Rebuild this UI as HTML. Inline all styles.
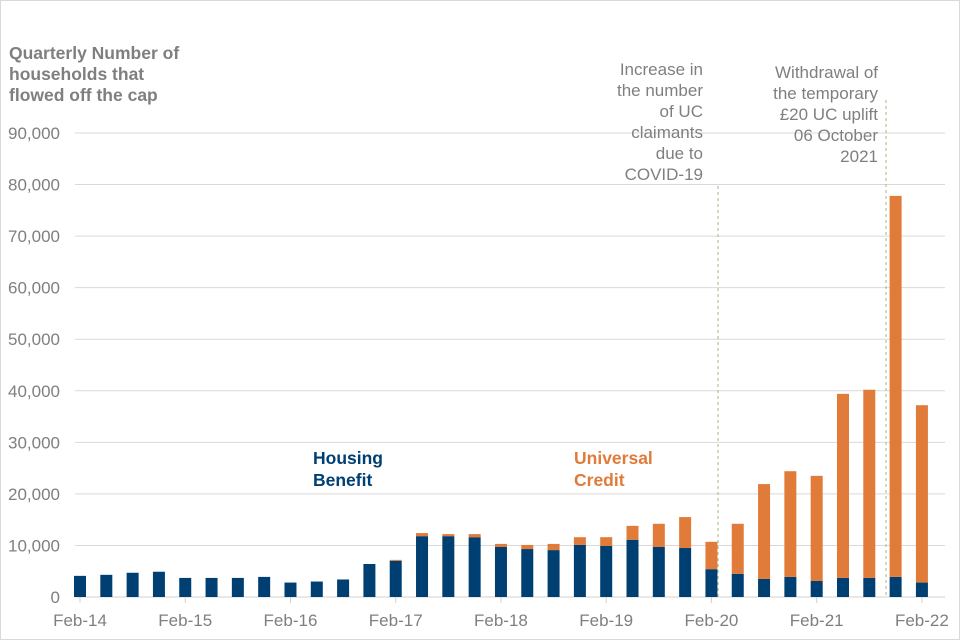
<!DOCTYPE html>
<html><head><meta charset="utf-8"><style>
body{margin:0;background:#fff;}
svg{display:block;font-family:"Liberation Sans",Arial,sans-serif;}
</style></head><body>
<svg id="chart" width="960" height="640">
<rect x="0.5" y="0.5" width="959" height="639" fill="#fff" stroke="#d9d9d9"/>
<g id="grid"></g><g id="bars"></g><g id="axes"></g>
<text x="9" y="59" font-size="17.5" font-weight="bold" fill="#7f7f7f"><tspan x="9">Quarterly Number of</tspan><tspan x="9" dy="21">households that</tspan><tspan x="9" dy="21">flowed off the cap</tspan></text>
<text font-size="17.5" font-weight="bold" fill="#003f72"><tspan x="313" y="464">Housing</tspan><tspan x="313" y="486">Benefit</tspan></text>
<text font-size="17.5" font-weight="bold" fill="#e07b39"><tspan x="574" y="464">Universal</tspan><tspan x="574" y="486">Credit</tspan></text>
<text font-size="17" fill="#7f7f7f" text-anchor="end"><tspan x="703" y="75">Increase in</tspan><tspan x="703" dy="21">the number</tspan><tspan x="703" dy="21">of UC</tspan><tspan x="703" dy="21">claimants</tspan><tspan x="703" dy="21">due to</tspan><tspan x="703" dy="21">COVID-19</tspan></text>
<text font-size="17" fill="#7f7f7f" text-anchor="end"><tspan x="878" y="78">Withdrawal of</tspan><tspan x="878" dy="21">the temporary</tspan><tspan x="878" dy="21">£20 UC uplift</tspan><tspan x="878" dy="21">06 October</tspan><tspan x="878" dy="21">2021</tspan></text>
<line x1="718" y1="186" x2="718" y2="597" stroke="#a9b57a" stroke-dasharray="3,3"/>
<line x1="886" y1="100" x2="886" y2="597" stroke="#a9b57a" stroke-dasharray="3,3"/>
</svg>
<script>
const hb=[4100,4300,4700,4900,3700,3700,3700,3900,2800,3000,3400,6400,7000,11800,11800,11600,9700,9300,9100,10100,9900,11100,9700,9500,5400,4500,3500,3900,3100,3700,3700,3900,2800];
const uc=[0,0,0,0,0,0,0,0,0,0,0,0,200,600,400,600,600,800,1200,1500,1700,2700,4500,6000,5300,9700,18400,20500,20400,35700,36500,73900,34400];
const xLabels=["Feb-14","Feb-15","Feb-16","Feb-17","Feb-18","Feb-19","Feb-20","Feb-21","Feb-22"];
const yTicks=[0,10000,20000,30000,40000,50000,60000,70000,80000,90000];
const NS="http://www.w3.org/2000/svg";
const y=v=>597-v*(464/90000);
const x=i=>80+i*26.31;
function mk(tag,attrs,parent){const e=document.createElementNS(NS,tag);for(const k in attrs)e.setAttribute(k,attrs[k]);document.getElementById(parent).appendChild(e);return e;}
yTicks.forEach(t=>{
 const l=mk('line',{x1:75,x2:945,y1:y(t),y2:y(t),stroke:t===0?'#d0d0d0':'#d9d9d9'},'grid');
 
 
 const tx=mk('text',{x:60,y:y(t)+6,'text-anchor':'end','font-size':17,fill:'#7f7f7f'},'axes');
 tx.textContent=t.toLocaleString('en-US');
 
 
});
xLabels.forEach((s,k)=>{
 const i=k*4;
 const tk=mk('line',{x1:x(i),x2:x(i),y1:597,y2:603,stroke:'#d0d0d0'},'axes');
 
 
 const tx=mk('text',{x:x(i),y:626,'text-anchor':'middle','font-size':17,fill:'#7f7f7f'},'axes');
 tx.textContent=s;
 
 
});
hb.forEach((v,i)=>{
 const w=12;
 const b=mk('rect',{x:x(i)-w/2,y:y(v),width:w,height:597-y(v),fill:'#003f72'},'bars');
 
 
 if(uc[i]>0){
  const u=mk('rect',{x:x(i)-w/2,y:y(v+uc[i]),width:w,height:y(v)-y(v+uc[i]),fill:'#e07b39'},'bars');
  
  
 }
});
</script>
</body></html>
